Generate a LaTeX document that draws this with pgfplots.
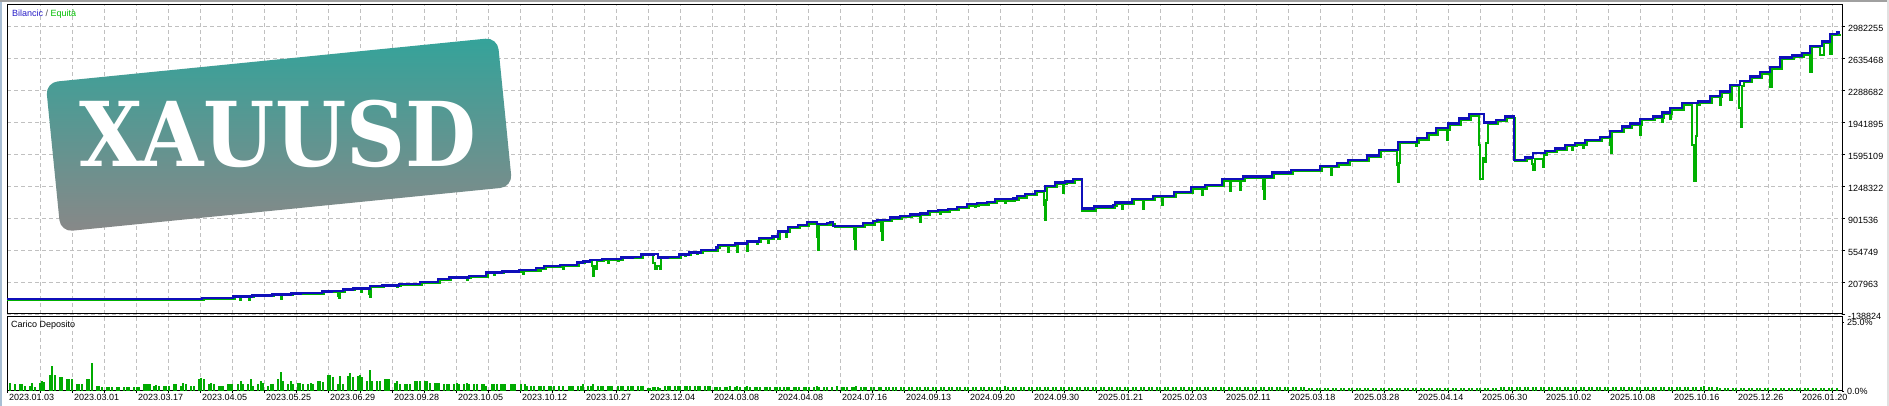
\documentclass[border=0pt]{standalone}
\usepackage{fontspec}
\setmainfont{Liberation Sans}
\newfontfamily\badgefont{DejaVu Serif}
\usepackage{pgfplots}
\pgfplotsset{compat=1.18}
\definecolor{balblue}{RGB}{15,15,185}
\definecolor{eqgreen}{RGB}{0,176,0}
\definecolor{bargreen}{RGB}{0,170,0}
\definecolor{gridgray}{RGB}{192,192,192}
\definecolor{badgetop}{RGB}{52,163,154}
\definecolor{badgebot}{RGB}{136,136,136}
\definecolor{legblue}{RGB}{40,30,200}
\definecolor{leggreen}{RGB}{0,190,0}
\definecolor{edgeblue}{RGB}{168,190,212}
\definecolor{edgegray}{RGB}{160,160,160}
\definecolor{edgelight}{RGB}{225,225,225}

\pgfplotsset{
  mtbase/.style={
    scale only axis, anchor=south west,
    width=1835pt, xmin=7, xmax=1842,
    axis line style={black, line width=1pt},
    xtick={7,72,136,200,264,328,392,456,520,584,648,712,776,840,904,968,1032,1096,1160,1224,1288,1352,1416,1480,1544,1608,1672,1736,1800},
    minor xtick={40,104,...,1832},
    xmajorgrids, xminorgrids,
    grid style={gridgray, dash pattern=on 4pt off 3pt, line width=0.9pt},
    major grid style={gridgray, dash pattern=on 4pt off 3pt, line width=0.9pt},
    minor grid style={gridgray, dash pattern=on 4pt off 3pt, line width=0.9pt},
    ytick pos=right, yticklabel pos=right,
    tick align=outside,
    scaled x ticks=false, scaled y ticks=false,
    ticklabel style={font=\fontsize{9}{10}\selectfont, inner sep=0pt},
  }
}

\begin{document}
\begin{tikzpicture}[x=1pt,y=1pt]
\useasboundingbox (0,0) rectangle (1889,406);
\fill[white] (0,0) rectangle (1889,406);
\fill[edgeblue] (0,0) rectangle (1.5,406);
\fill[edgegray] (0,404.3) rectangle (1889,406);
\fill[edgelight] (1887,0) rectangle (1889,406);

% ---------- top panel: balance / equity ----------
\begin{axis}[mtbase,
  at={(7pt,92pt)}, height=309pt,
  ymin=-138824, ymax=3218214,
  ymajorgrids,
  xticklabel=\empty, xtick style={draw=none},
  major tick length=3pt, minor tick length=0pt,
  ytick={-138824,207963,554749,901536,1248322,1595109,1941895,2288682,2635468,2982255},
  yticklabels={-138824,207963,554749,901536,1248322,1595109,1941895,2288682,2635468,2982255},
  ytick style={black, line width=0.8pt},
  yticklabel style={anchor=west, xshift=3pt, yshift=-2pt},
]
% equity
\addplot[const plot, eqgreen, line width=2pt] coordinates {
(7,15000) (204,27000) (235,41000) (240,12200) (241,41000) (249,12200) (250,41000)
(254,52000) (274,63000) (281,26300) (282,63000) (293,74000) (303,81500) (324,95600)
(334,103200) (338,60000) (339,33900) (340,103200) (345,117400) (355,128200)
(361,94800) (362,128200) (369,80000) (370,48000) (371,154300) (384,160800)
(397,149100) (398,160800) (401,179300) (422,201000) (440,230300) (448,229500)
(449,230300) (451,247700) (467,232700) (468,247700) (471,266000) (484,276200)
(485,266000) (488,302000) (494,287000) (495,302000) (504,312900) (521,331400)
(523,294700) (524,331400) (538,353100) (540,330500) (541,353100) (546,371600)
(562,385700) (563,349000) (564,385700) (579,410700) (585,421500) (592,380000)
(593,268600) (594,380000) (596,349000) (597,436800) (604,447600) (608,414200)
(609,447600) (618,439200) (619,447600) (623,465000) (635,472600) (643,497600)
(653,420000) (655,349000) (657,380000) (660,349000) (661,465000) (670,472600)
(681,497600) (685,493500) (686,497600) (691,519300) (697,512000) (698,519300)
(703,545400) (718,573700) (720,603000) (728,529300) (729,603000) (737,529300)
(738,617100) (747,547800) (748,638800) (757,620600) (758,638800) (761,675800)
(768,627100) (769,675800) (774,693200) (778,674900) (780,747500) (786,692300)
(787,747500) (790,795000) (800,818100) (809,842000) (817,700000) (818,556000)
(819,823000) (829,831000) (832,842000) (835,802000) (854,680000) (855,567000)
(856,802000) (865,831000) (875,856000) (879,867000) (881,760000) (882,665000)
(883,867000) (892,892000) (902,911000) (912,925000) (920,860700) (921,936000)
(930,965000) (940,947600) (941,972800) (950,987000) (959,1008600) (969,1038000)
(975,1020400) (976,1038000) (979,1048900) (989,1062900) (997,1092300)
(1005,1063900) (1006,1092300) (1015,1098800) (1019,1124900) (1027,1149900)
(1037,1182500) (1044,1050000) (1045,882400) (1046,1100000) (1047,1236800)
(1057,1272600) (1063,1175700) (1064,1272600) (1067,1283500) (1075,1312800)
(1082,983500) (1084,983500) (1096,1011900) (1115,1030400) (1117,1055400)
(1122,1001900) (1123,1055400) (1134,1095500) (1143,998600) (1144,1095500)
(1155,1128100) (1162,1045400) (1163,1128100) (1176,1174800) (1193,1222700)
(1202,1154000) (1203,1222700) (1207,1247600) (1224,1309600) (1230,1197500)
(1231,1309600) (1240,1208300) (1241,1309600) (1245,1337800) (1263,1220000)
(1264,1107300) (1265,1337800) (1274,1381300) (1293,1410600) (1322,1454100)
(1331,1371300) (1332,1454100) (1339,1483400) (1350,1519300) (1369,1566000)
(1381,1627900) (1397,1480000) (1398,1298500) (1399,1500000) (1400,1714800)
(1416,1689600) (1417,1714800) (1419,1755000) (1429,1809300) (1438,1863600)
(1447,1751600) (1448,1863600) (1450,1917900) (1461,1972200) (1471,2015700)
(1479,1700000) (1480,1324600) (1483,1552700) (1484,1515800) (1486,1715700)
(1488,1924500) (1498,1953800) (1507,1989700) (1515,1519300) (1527,1544300)
(1532,1490000) (1533,1425600) (1535,1544300) (1543,1461400) (1544,1592000)
(1547,1617000) (1557,1646300) (1567,1682200) (1572,1642900) (1573,1682200)
(1577,1700700) (1583,1661300) (1584,1700700) (1587,1736600) (1602,1769100)
(1610,1700000) (1611,1607000) (1612,1834300) (1624,1881000) (1632,1917900)
(1640,1805900) (1641,1917900) (1642,1964700) (1655,1989700) (1662,1943800)
(1663,1989700) (1664,2033200) (1670,1979700) (1671,2033200) (1672,2081000)
(1684,2135300) (1692,1700000) (1694,1306100) (1696,1800000) (1697,2135300)
(1700,2152700) (1712,2214600) (1720,2131800) (1721,2214600) (1722,2261300)
(1730,2186100) (1732,2334100) (1739,2100000) (1741,1887300) (1742,2334100)
(1744,2377600) (1752,2424300) (1762,2472100) (1770,2330600) (1772,2526400)
(1782,2630700) (1794,2652500) (1804,2678400) (1810,2493600) (1812,2757800)
(1820,2675000) (1824,2804500) (1830,2682600) (1832,2888100) (1840,2902300)
};
% balance
\addplot[const plot, balblue, line width=2.4pt] coordinates {
(7,25000) (202,37200) (233,51300) (252,62200) (272,73000) (291,83900) (301,91500)
(322,105600) (332,113200) (343,127400) (353,138200) (370,164300) (382,170800)
(399,189300) (420,211000) (438,240300) (449,257700) (469,276000) (486,312000)
(502,322900) (519,341400) (536,363100) (544,381600) (560,395700) (577,420700)
(583,431500) (590,446800) (602,457600) (621,475000) (633,482600) (641,507600)
(654,515200) (658,475000) (668,482600) (679,507600) (689,529300) (701,555400)
(716,583700) (718,613000) (735,627100) (747,648800) (759,685800) (772,703200)
(778,757500) (788,805000) (798,828100)
(807,857400) (817,838900) (827,846600) (830,857400) (833,817200) (853,817200)
(863,846600) (873,871500) (877,882400) (890,907400) (900,925900) (910,940000)
(920,950900) (928,980200) (938,987800) (948,1001900) (957,1023600)
(967,1053000) (977,1063900) (987,1077900) (995,1107300) (1013,1113800)
(1017,1139900) (1025,1164900) (1035,1197500) (1045,1251800) (1055,1287600)
(1065,1298500) (1073,1327800) (1082,1007300) (1094,1026900) (1113,1045400)
(1115,1070400) (1132,1110500) (1153,1143100) (1174,1189800) (1191,1237700)
(1205,1262600) (1222,1324600) (1243,1352800) (1272,1396300) (1291,1425600)
(1320,1469100) (1337,1498400) (1348,1534300) (1367,1581000) (1379,1642900)
(1398,1729800) (1417,1770000) (1427,1824300) (1436,1878600) (1448,1932900)
(1459,1987200) (1469,2030700) (1484,1939500) (1496,1968800) (1505,2004700)
(1514,1534300) (1525,1559300) (1533,1607000) (1545,1632000) (1555,1661300)
(1565,1697200) (1575,1715700) (1585,1751600) (1600,1784100) (1610,1849300)
(1622,1896000) (1630,1932900) (1640,1979700) (1653,2004700) (1662,2048200)
(1670,2096000) (1682,2150300) (1698,2167700) (1710,2229600) (1720,2276300)
(1730,2349100) (1740,2392600) (1750,2439300) (1760,2487100) (1770,2541400)
(1780,2645700) (1792,2667500) (1802,2693400) (1810,2772800) (1822,2819500)
(1830,2903100) (1837,2917300) (1840,2917300)
};
\end{axis}

% ---------- bottom panel: deposit load ----------
\begin{axis}[mtbase,
  at={(7pt,15pt)}, height=74.5pt,
  ymin=0, ymax=27.2,
  ytick={0,25}, yticklabels={0.0\%,25.0\%},
  xtick pos=left,
  major tick length=2pt, minor tick length=2pt,
  xticklabels={2023.01.03,2023.03.01,2023.03.17,2023.04.05,2023.05.25,2023.06.29,2023.09.28,2023.10.05,2023.10.12,2023.10.27,2023.12.04,2024.03.08,2024.04.08,2024.07.16,2024.09.13,2024.09.20,2024.09.30,2025.01.21,2025.02.03,2025.02.11,2025.03.18,2025.03.28,2025.04.14,2025.06.30,2025.10.02,2025.10.08,2025.10.16,2025.12.26,2026.01.20},
  xticklabel style={anchor=north west, xshift=2pt, yshift=-1pt},
  yticklabel style={anchor=west, xshift=3pt},
  tick style={black, line width=0.8pt},
]
\addplot[ycomb, bargreen, line width=2pt] coordinates {
(10,3.0) (15,2.7) (20,2.4) (22,2.4) (25,2.0) (30,1.7) (32,3.1) (35,1.3) (40,3.0) (42,3.8)
(44,3.2) (50,5.9) (52,9.1) (55,5.9) (60,5.2) (62,5.0) (67,4.5) (69,4.5) (72,4.3) (77,2.7)
(79,2.7) (82,2.4) (87,4.5) (89,4.5) (92,10.2) (97,1.7) (99,2.0) (102,1.3) (107,1.3) (109,1.3)
(112,1.3) (117,1.3) (119,1.3) (124,1.3) (127,1.3) (129,1.3) (134,1.3) (137,1.3) (139,1.3)
(144,2.4) (146,2.4) (148,2.4) (150,2.4) (154,2.0) (156,2.2) (159,2.0) (164,2.0) (166,2.0)
(169,2.0) (174,2.4) (176,2.4) (181,2.0) (183,3.0) (186,2.4) (191,2.0) (194,1.7) (199,4.5)
(201,4.9) (204,4.2) (209,2.7) (211,3.0) (214,2.4) (219,2.0) (221,2.0) (223,2.0) (228,2.7)
(230,2.7) (232,2.4) (238,2.7) (241,3.8) (243,2.4) (248,2.4) (251,4.2) (253,2.0) (258,2.7)
(261,3.5) (263,3.0) (268,2.0) (271,2.4) (273,2.4) (278,4.2) (281,7.0) (283,3.5) (288,2.7)
(291,3.5) (293,2.4) (298,3.0) (300,3.0) (303,2.7) (308,2.7) (311,3.0) (313,2.4) (318,3.5)
(320,3.5) (323,3.2) (328,5.8) (330,5.9) (333,5.2) (338,2.7) (340,5.6) (343,2.4) (348,5.6)
(350,6.7) (353,5.2) (358,5.6) (360,5.9) (362,5.2) (367,3.8) (370,7.8) (372,3.5) (377,3.8)
(380,3.5) (385,4.2) (387,4.5) (389,4.2) (395,3.1) (397,3.5) (400,2.4) (405,2.4) (407,2.4)
(410,2.4) (415,3.5) (417,3.5) (420,3.5) (425,3.5) (427,3.5) (430,3.0) (435,3.0) (437,3.0)
(439,3.0)
(444,2.4) (447,2.7) (449,2.4) (454,2.7) (457,3.1) (459,2.7) (464,2.7) (467,3.0) (469,2.7)
(474,2.4) (477,2.4) (482,2.4) (484,2.4) (486,2.0) (492,2.4) (494,2.4) (497,2.4) (501,2.4)
(503,2.4) (505,2.4) (511,2.4) (513,2.4) (515,2.4) (521,2.4) (525,2.4) (527,2.0) (531,2.0)
(534,1.7) (539,1.7) (541,1.7) (544,1.7) (549,2.0) (551,2.0) (554,2.0) (559,2.0) (563,2.0)
(569,2.0) (571,2.0) (573,2.0) (578,2.0) (581,1.7) (583,2.4) (588,1.7) (591,1.7) (593,2.7)
(598,2.0) (601,2.0) (603,1.7) (608,1.7) (610,1.7) (612,1.7) (618,1.7) (621,1.7) (623,1.7)
(628,1.7) (631,1.7) (633,1.7) (638,1.7) (641,1.7) (643,1.7) (648,1.0) (650,1.0) (653,1.3)
(655,1.3) (658,1.3) (660,1.0) (665,1.7) (668,2.0) (670,1.7) (675,1.7) (678,1.7) (680,1.7)
(685,1.7) (687,1.7) (690,1.7) (695,1.7) (698,1.7) (700,1.7) (705,1.7) (708,1.7) (710,1.7)
(715,1.3) (717,1.3) (720,1.3) (725,1.3) (727,1.3) (730,1.7) (735,1.3) (737,1.7) (740,1.3)
(745,1.3) (747,1.7) (750,1.3) (755,1.3) (757,1.3) (760,1.3) (765,1.3) (767,1.3) (770,1.3)
(775,1.3) (777,1.3) (780,1.3) (784,1.3) (787,1.3) (789,1.3) (794,1.3) (796,1.3) (799,1.3)
(804,1.3) (806,1.3) (809,1.3) (814,1.3) (817,1.7) (819,1.3) (824,1.3) (827,1.3) (832,1.3)
(837,2.0) (842,1.3) (844,1.3) (847,1.3) (852,1.3) (854,1.3) (856,1.7) (861,1.3) (864,1.3)
(866,1.3) (871,1.3) (874,1.3) (879,1.3) (881,1.3) (886,1.3) (889,1.3)
(893,1.3) (896,1.3) (901,1.5) (904,1.3) (909,1.3) (912,1.3) (917,1.3) (920,1.6) (925,1.3)
(928,1.3) (933,1.3) (936,1.3) (941,1.3) (944,1.5) (949,1.3) (952,1.3) (957,1.3) (960,1.3)
(965,1.3) (968,1.3) (973,1.5) (976,1.3) (981,1.3) (984,1.3) (989,1.6) (992,1.3) (997,1.3)
(1000,1.3) (1005,1.7) (1008,1.3) (1013,1.3) (1016,1.5) (1021,1.3) (1024,1.3) (1029,1.3)
(1032,1.6) (1037,1.3) (1040,1.3) (1045,1.3) (1048,1.3) (1053,1.3) (1056,1.3) (1061,1.5)
(1064,1.3) (1069,1.3) (1072,1.3) (1077,1.3) (1080,1.3) (1085,1.3) (1088,1.3) (1093,1.3)
(1096,1.3) (1101,1.3) (1104,1.3) (1109,1.3) (1112,1.3) (1117,1.3) (1120,1.3) (1125,1.3)
(1128,1.3) (1133,1.3) (1136,1.3) (1141,1.3) (1144,1.3) (1149,1.3) (1152,1.3) (1157,1.3)
(1160,1.3) (1165,1.3) (1168,1.3) (1173,1.3) (1176,1.3) (1181,1.3) (1184,1.3) (1189,1.3)
(1192,1.3) (1197,1.3) (1200,1.3) (1205,1.3) (1208,1.3) (1213,1.3) (1216,1.3) (1221,1.3)
(1224,1.3) (1229,1.3) (1232,1.3) (1237,1.3) (1240,1.3) (1245,1.3) (1248,1.3) (1253,1.3)
(1256,1.3) (1261,1.3) (1264,1.3) (1269,1.3) (1272,1.3) (1277,1.3) (1280,1.3) (1285,1.3)
(1288,1.3) (1293,1.3) (1296,1.3) (1301,1.3) (1304,1.3) (1309,1.2) (1312,1.2) (1317,1.2)
(1320,1.2) (1325,1.2) (1328,1.2) (1333,1.2) (1336,1.2) (1341,1.2) (1344,1.2) (1349,1.2)
(1352,1.2) (1357,1.2) (1360,1.2) (1365,1.2) (1368,1.2) (1373,1.2) (1376,1.2) (1381,1.2)
(1384,1.2) (1389,1.2) (1392,1.2) (1397,1.2) (1400,1.2) (1405,1.2) (1408,1.2) (1413,1.2)
(1416,1.2) (1421,1.2) (1424,1.2) (1429,1.2) (1432,1.2) (1437,1.2) (1440,1.2) (1445,1.2)
(1448,1.2) (1453,1.2) (1456,1.2) (1461,1.2) (1464,1.2) (1469,1.2) (1472,1.2) (1477,1.2)
(1480,1.2) (1485,1.2) (1488,1.2) (1493,1.2) (1496,1.2) (1501,1.3) (1504,1.3) (1509,1.3)
(1512,1.3) (1517,1.3) (1520,1.3) (1525,1.3) (1528,1.3) (1533,1.3) (1536,1.3) (1541,1.3)
(1544,1.3) (1549,1.3) (1552,1.3) (1557,1.3) (1560,1.3) (1565,1.3) (1568,1.3) (1573,1.3)
(1576,1.3) (1581,1.3) (1584,1.3) (1589,1.3) (1592,1.3) (1597,1.3) (1600,1.3) (1605,1.3)
(1608,1.3) (1613,1.3) (1616,1.3) (1621,1.3) (1624,1.3) (1629,1.3) (1632,1.3) (1637,1.3)
(1640,1.3) (1645,1.3) (1648,1.3) (1653,1.3) (1656,1.3) (1661,1.3) (1664,1.3) (1669,1.3)
(1672,1.3) (1677,1.3) (1680,1.3) (1685,1.3) (1688,1.6) (1693,1.3) (1696,1.6) (1701,1.3)
(1704,1.7) (1709,1.3) (1712,1.3) (1717,1.3) (1720,1.1) (1725,1.1) (1728,1.1) (1733,1.0)
(1736,1.0) (1741,1.0) (1744,1.0) (1749,1.0) (1752,1.0) (1757,1.0) (1760,1.0) (1765,1.0)
(1768,1.0) (1773,1.0) (1776,1.0) (1781,1.0) (1784,1.0) (1789,1.0) (1792,1.0) (1797,1.0)
(1800,1.0) (1805,1.0) (1808,1.0) (1813,1.0) (1816,1.0) (1821,1.0) (1824,1.0) (1829,1.0)
(1832,1.0) (1837,1.0)
};
\end{axis}

% ---------- badge ----------
\node[rotate=5.7, rounded corners=12pt, top color=badgetop, bottom color=badgebot,
      minimum width=454pt, minimum height=150pt, inner sep=0pt] at (279,271.3) {};
\node[text=white, inner sep=0pt, xscale=0.95, yscale=1.04,
      font=\badgefont\bfseries\fontsize{86}{86}\selectfont] at (278,272) {XAUUSD};

% ---------- panel captions ----------
\node[anchor=west, inner sep=0pt, font=\fontsize{9}{10}\selectfont] at (12,392)
  {\textcolor{legblue}{Bilancic} \textcolor{black!70}{/} \textcolor{leggreen}{Equità}};
\node[anchor=west, inner sep=0pt, font=\fontsize{9}{10}\selectfont] at (11,81) {Carico Deposito};
\end{tikzpicture}
\end{document}
